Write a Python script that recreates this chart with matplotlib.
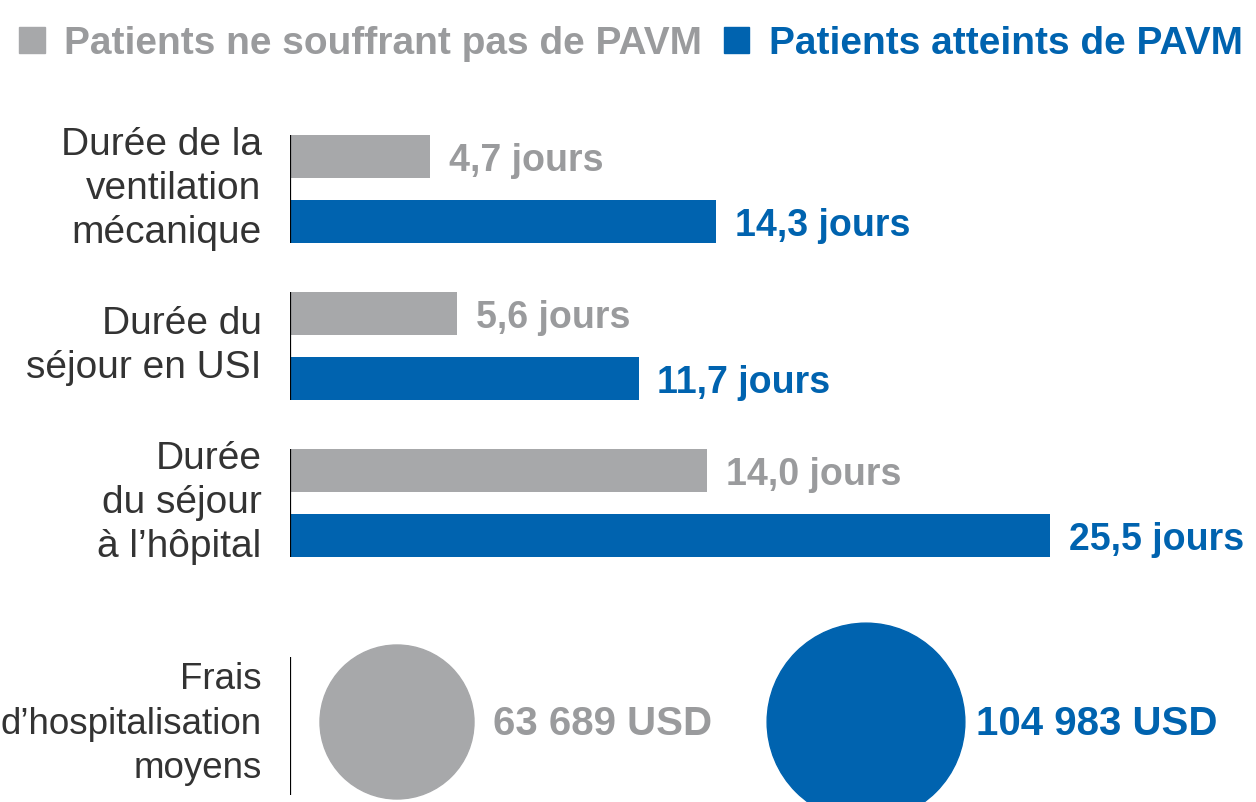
import numpy as np
import matplotlib
matplotlib.use('Agg')
import matplotlib.pyplot as plt
from matplotlib.patches import Patch, Circle

plt.rcParams['font.family'] = ['Liberation Sans', 'DejaVu Sans']

# data
categories = ["Durée de la\nventilation\nmécanique",
              "Durée du\nséjour en USI",
              "Durée\ndu séjour\nà l’hôpital"]
no_pavm_days = [4.7, 5.6, 14.0]
pavm_days = [14.3, 11.7, 25.5]
cost_label = "Frais\nd’hospitalisation\nmoyens"
costs = [63689, 104983]
series = ["Patients ne souffrant pas de PAVM", "Patients atteints de PAVM"]

GRAY = '#a7a8aa'
GRAY_TXT = '#9a9b9d'
BLUE = '#0063af'
DARK = '#333333'

W, H = 1256, 802
fig = plt.figure(figsize=(W / 100, H / 100), dpi=100)

# bar section
ax = fig.add_axes([290 / W, 1 - 600 / H, (W - 290) / W, 500 / H])
ax.set_xlim(0, (W - 290) / 29.8)
ax.set_ylim(2.618, -0.567)
ax.axis('off')

y = np.arange(len(categories))
h = 43 / 157
off = 32.5 / 157
ax.barh(y - off, no_pavm_days, height=h, color=GRAY)
ax.barh(y + off, pavm_days, height=h, color=BLUE)
ax.vlines(np.zeros(len(y)), y - off - h / 2, y + off + h / 2, color='black', lw=1.6)

def fmt(v):
    return f"{v:.1f}".replace('.', ',') + " jours"

for i in range(len(categories)):
    ax.annotate(categories[i], (0, y[i]), xytext=(-20.5, 0), textcoords='offset points',
                ha='right', va='center', fontsize=28, color=DARK, linespacing=1.27)
    ax.annotate(fmt(no_pavm_days[i]), (no_pavm_days[i], y[i] - off), xytext=(13.5, -3),
                textcoords='offset points', ha='left', va='center',
                fontsize=27, fontweight='bold', color=GRAY_TXT)
    ax.annotate(fmt(pavm_days[i]), (pavm_days[i], y[i] + off), xytext=(13.5, -3),
                textcoords='offset points', ha='left', va='center',
                fontsize=27, fontweight='bold', color=BLUE)

# cost circles (area proportional to cost)
cx = fig.add_axes([290 / W, 0, (W - 290) / W, 200 / H])
cx.set_xlim(0, W - 290)
cx.set_ylim(0, 200)
cx.axis('off')
k = 77 / np.sqrt(costs[0])
centers = [107, 576]
colors = [GRAY, BLUE]
txt_colors = [GRAY_TXT, BLUE]
gaps = [19, 11]
for c, v, col, tc, g in zip(centers, costs, colors, txt_colors, gaps):
    r = k * np.sqrt(v)
    cx.add_patch(Circle((c, 80), r, color=col, clip_on=False))
    s = f"{v:,}".replace(',', ' ') + " USD"
    cx.text(c + r + g, 78, s, ha='left', va='center', fontsize=29,
            fontweight='bold', color=tc)
cx.vlines([0], 7, 145, color='black', lw=1.6)
cx.annotate(cost_label, (0, 78), xytext=(-20.5, 0), textcoords='offset points',
            ha='right', va='center', fontsize=26.5, color=DARK, linespacing=1.36)

# legend
handles = [Patch(color=GRAY), Patch(color=BLUE)]
fig.legend(handles, series, loc='upper left', bbox_to_anchor=(19 / W, 1 - 26 / H),
           ncol=2, frameon=False, borderpad=0, borderaxespad=0,
           handlelength=0.66, handleheight=0.66, handletextpad=0.5, columnspacing=0.55,
           prop={'size': 28, 'weight': 'bold'}, labelcolor=[GRAY_TXT, BLUE])

fig.savefig('out.png', dpi=100)
